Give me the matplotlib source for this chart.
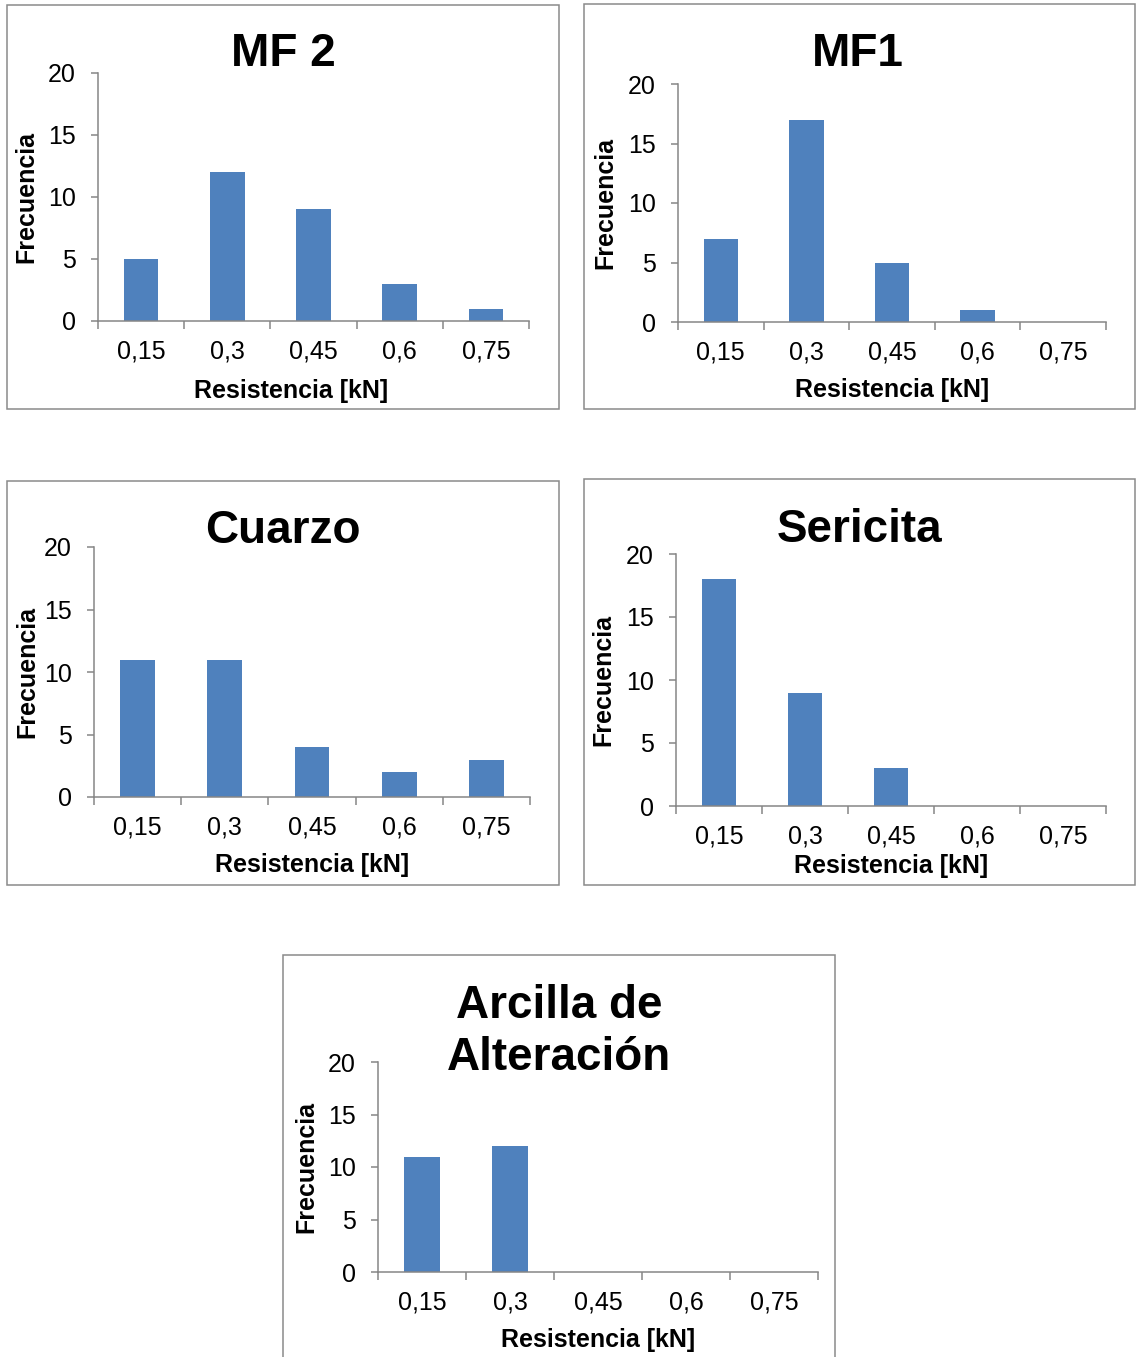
import matplotlib
matplotlib.use('Agg')
import matplotlib.pyplot as plt
from matplotlib.patches import Rectangle

plt.rcParams['font.family'] = ['Liberation Sans', 'DejaVu Sans']

# Canvas size in pixels (dpi 100)
W, H = 1137, 1357

# Data
categorias = ['0,15', '0,3', '0,45', '0,6', '0,75']
mf2 = [5, 12, 9, 3, 1]
mf1 = [7, 17, 5, 1, 0]
cuarzo = [11, 11, 4, 2, 3]
sericita = [18, 9, 3, 0, 0]
arcilla = [11, 12, 0, 0, 0]

BAR = '#4F81BD'
GRIS = '#868686'


def fx(x):
    return x / W


def fy(y):
    return 1 - y / H


def panel(fig, valores, titulo, caja, ejes, pos_titulo, pos_xlab, pos_ylab):
    # Border around the whole chart
    x0, y0, x1, y1 = caja
    fig.patches.append(Rectangle((fx(x0), fy(y1)), (x1 - x0) / W, (y1 - y0) / H,
                                 transform=fig.transFigure, fill=False,
                                 edgecolor='#8a8a8a', lw=1.1))
    l, t, r, b = ejes
    ax = fig.add_axes([fx(l), fy(b), (r - l) / W, (b - t) / H])
    ax.bar(range(len(valores)), valores, width=0.4, color=BAR)
    ax.set_xlim(-0.5, len(valores) - 0.5)
    ax.set_ylim(0, 20)
    ax.set_yticks([0, 5, 10, 15, 20])
    # Tick marks between categories, labels under the bars
    ax.set_xticks([i - 0.5 for i in range(len(valores) + 1)])
    ax.set_xticklabels([])
    ax.set_xticks(range(len(valores)), minor=True)
    ax.set_xticklabels(categorias, minor=True)
    ax.tick_params(axis='x', which='major', direction='out', length=6,
                   width=1.1, color=GRIS)
    ax.tick_params(axis='x', which='minor', length=0, pad=13.5, labelsize=18)
    ax.tick_params(axis='y', direction='out', length=5, width=1.1, color=GRIS,
                   pad=11, labelsize=18)
    for s in ['top', 'right']:
        ax.spines[s].set_visible(False)
    for s in ['left', 'bottom']:
        ax.spines[s].set_color(GRIS)
        ax.spines[s].set_linewidth(1.1)

    ax.set_xlabel('Resistencia [kN]', fontsize=18, fontweight='bold')
    ax.xaxis.set_label_coords(fx(pos_xlab[0]), fy(pos_xlab[1]),
                              transform=fig.transFigure)
    ax.xaxis.label.set_va('center')
    ax.set_ylabel('Frecuencia', fontsize=18, fontweight='bold')
    ax.yaxis.set_label_coords(fx(pos_ylab[0]), fy(pos_ylab[1]),
                              transform=fig.transFigure)
    ax.yaxis.label.set_va('center')

    fig.text(fx(pos_titulo[0]), fy(pos_titulo[1]), titulo, fontsize=33,
             fontweight='bold', ha='center', va='center', linespacing=1.22)
    return ax


fig = plt.figure(figsize=(W / 100, H / 100), dpi=100)

panel(fig, mf2, 'MF 2', (7, 5, 559, 409), (98, 73, 529, 321),
      (283, 54), (291, 391), (26, 197))
panel(fig, mf1, 'MF1', (584, 4, 1135, 409), (678, 84, 1106, 322),
      (858, 54), (892, 390), (605, 203))
panel(fig, cuarzo, 'Cuarzo', (7, 481, 559, 885), (94, 547, 530, 797),
      (283, 531), (312, 865), (27, 672))
panel(fig, sericita, 'Sericita', (584, 479, 1135, 885), (676, 554, 1106, 806),
      (860, 530), (891, 866), (603, 680))
panel(fig, arcilla, 'Arcilla de\nAlteración', (283, 955, 835, 1375),
      (378, 1062, 818, 1272), (559, 1032), (598, 1340), (306, 1167))

fig.savefig('out.png', dpi=100)
